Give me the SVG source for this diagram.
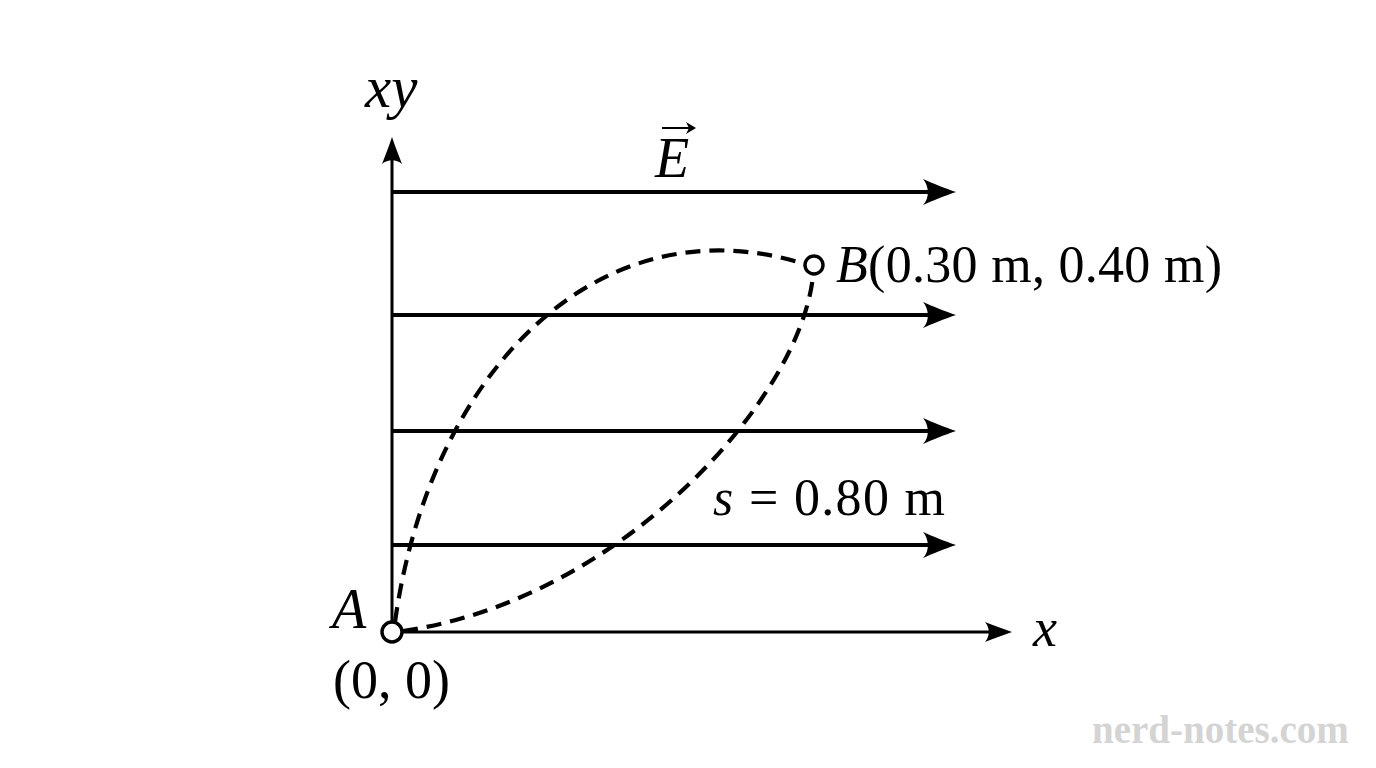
<svg xmlns="http://www.w3.org/2000/svg" width="1376" height="768" viewBox="0 0 1376 768">
  <style>
    .t { font-family: "Liberation Serif", "Times New Roman", serif; font-size: 52px; fill: #000; }
    .i { font-style: italic; }
    .field { stroke: #000; stroke-width: 4; fill: none; }
    .axis { stroke: #000; stroke-width: 3; fill: none; }
    .head { fill: #000; stroke: none; }
    .dash { stroke: #000; stroke-width: 4.2; fill: none; stroke-dasharray: 15 9; }
    .pt { fill: #fff; stroke: #000; stroke-width: 3.4; }
    .wm { font-family: "Liberation Serif", "Times New Roman", serif; font-size: 39px; font-weight: bold; fill: #d4d4d4; }
  </style>
  <defs>
    <path id="fh" d="M0,0 C-12,-4 -24,-9 -33,-13 C-27,-6 -26,6 -33,13 C-24,9 -12,4 0,0 Z"/>
    <path id="ah" d="M0,0 C-9,-3 -19,-7 -27,-10 C-22,-4 -22,4 -27,10 C-19,7 -9,3 0,0 Z"/>
  </defs>
  <rect width="1376" height="768" fill="#fff"/>

  <g id="connectors">
    <g id="axes">
      <line class="axis" x1="392" y1="632" x2="392" y2="156"/>
      <use href="#ah" class="head" transform="translate(392,137) rotate(-90)"/>
      <line class="axis" x1="402" y1="632" x2="992" y2="632"/>
      <use href="#ah" class="head" transform="translate(1012,632)"/>
    </g>
    <g id="field-lines">
      <line class="field" x1="392" y1="192" x2="932" y2="192"/>
      <use href="#fh" class="head" transform="translate(956,192)"/>
      <line class="field" x1="392" y1="315" x2="932" y2="315"/>
      <use href="#fh" class="head" transform="translate(956,315)"/>
      <line class="field" x1="392" y1="431" x2="932" y2="431"/>
      <use href="#fh" class="head" transform="translate(956,431)"/>
      <line class="field" x1="392" y1="545" x2="932" y2="545"/>
      <use href="#fh" class="head" transform="translate(956,545)"/>
    </g>
    <g id="paths">
      <path class="dash" d="M395,622 C430,370 600,200 805,264"/>
      <path class="dash" d="M403,631 C620,600 800,400 813,276"/>
    </g>
  </g>

  <g id="label-xy">
    <text class="t i" x="365" y="107" style="font-size:59px">xy</text>
  </g>
  <g id="label-E">
    <text class="t i" x="655" y="177" style="font-size:56px">E</text>
    <line x1="662" y1="128" x2="690" y2="128" stroke="#000" stroke-width="2"/>
    <path d="M696,128 L686,122 L689,128 L686,134 Z" fill="#000"/>
  </g>
  <g id="node-A">
    <circle class="pt" cx="392" cy="632" r="10"/>
    <text class="t i" x="332" y="628" style="font-size:56px">A</text>
    <text class="t" x="333" y="698" style="font-size:54px">(0, 0)</text>
  </g>
  <g id="node-B">
    <circle class="pt" cx="814" cy="265" r="9"/>
    <text class="t" x="836" y="282" textLength="386"><tspan class="i">B</tspan>(0.30 m, 0.40 m)</text>
  </g>
  <g id="label-s">
    <text class="t" x="713" y="515" textLength="232"><tspan class="i">s</tspan> = 0.80 m</text>
  </g>
  <g id="label-x">
    <text class="t i" x="1033" y="646" style="font-size:54px">x</text>
  </g>
  <g id="watermark">
    <text class="wm" x="1092" y="743">nerd-notes.com</text>
  </g>
</svg>
